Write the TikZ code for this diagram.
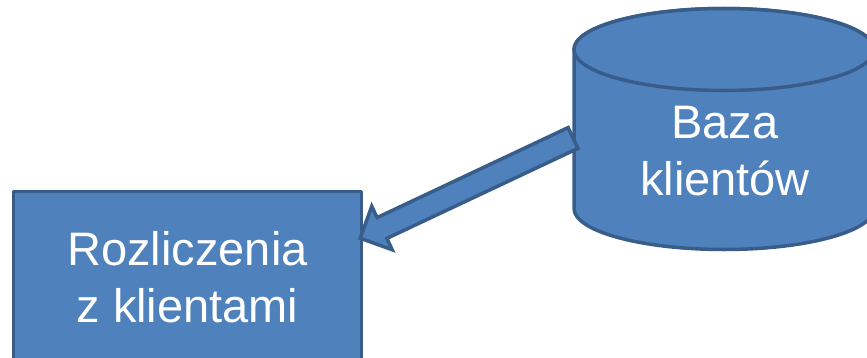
\documentclass[tikz,border=0pt]{standalone}
\usepackage{fontspec}
\setmainfont{Liberation Sans}
\usetikzlibrary{calc}
\definecolor{niebieski}{HTML}{4F81BD}
\definecolor{ramka}{HTML}{385D8A}

\begin{document}
\begin{tikzpicture}[x=1pt, y=1pt,
  blok/.style={fill=niebieski, draw=ramka, line width=3.5pt, line join=round},
  napis/.style={text=white, align=center, font=\fontsize{47}{57}\selectfont}]
  \useasboundingbox (0,0) rectangle (867,357);
  \clip (0,0) rectangle (867,357);

  % baza danych (walec)
  \draw[blok] (574,307.5) -- (574,148.5) arc (180:360:150 and 41) -- (874,307.5) arc (0:180:150 and 41) -- cycle;
  \draw[blok] (724,307.5) ellipse (150 and 41);
  \node[napis] (baza) at (725,205.5) {Baza\\klientów};

  % rozliczenia
  \node[blok, napis, minimum width=348pt, minimum height=170.5pt, inner sep=0pt] (rozl) at (187.5,80.25) {Rozliczenia\\z klientami};

  % strzalka
  \coordinate (ogon) at (573,219);
  \coordinate (grot) at ($(rozl.east)+(-3,38.5)$);
  \coordinate (szyja) at ($(grot)!24pt!(ogon)$);
  \draw[blok, line join=miter] ($(ogon)!11.5pt!90:(grot)$) -- ($(szyja)!11.5pt!90:(grot)$)
    -- ($(szyja)!24pt!90:(grot)$) -- (grot) -- ($(szyja)!24pt!-90:(grot)$)
    -- ($(szyja)!11.5pt!-90:(grot)$) -- ($(ogon)!11.5pt!-90:(grot)$) -- cycle;
\end{tikzpicture}
\end{document}
